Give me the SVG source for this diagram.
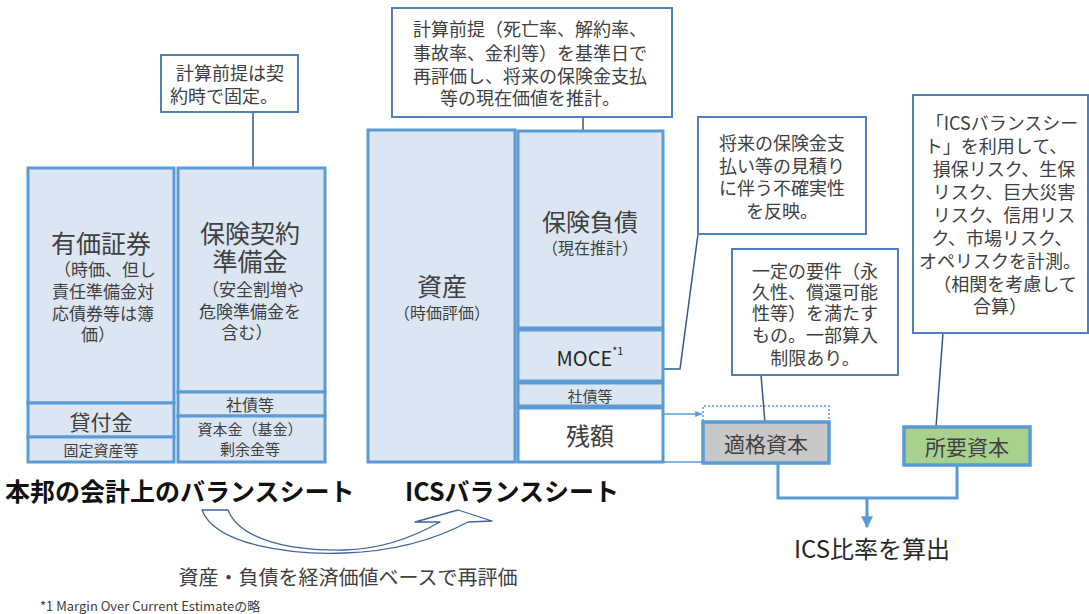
<svg xmlns="http://www.w3.org/2000/svg" width="1089" height="614" viewBox="0 0 1089 614">
<defs>
<style>
text{font-family:"Noto Sans CJK JP","Noto Sans",sans-serif;fill:#404040;text-anchor:middle;dominant-baseline:central}
.bx{fill:#dce6f2;stroke:#5b9bd5;stroke-width:3}
.wb{fill:#ffffff;stroke:#5b9bd5;stroke-width:3}
.co{fill:#ffffff;stroke:#4f81bd;stroke-width:2}
.ln{fill:none;stroke:#2f5a8c;stroke-width:1.5}
.thin{fill:none;stroke:#5b9bd5;stroke-width:1.5}
.big{fill:none;stroke:#5b9bd5;stroke-width:3}
.t25{font-size:25px}
.t24{font-size:24px}
.t21{font-size:21px}
.t18{font-size:18px}
.t17{font-size:17px}
.t16{font-size:16px}
.t15{font-size:15px}
.title{font-size:25px;font-weight:bold;fill:#111111;text-anchor:start}
</style>
<marker id="ah" viewBox="0 0 10 10" refX="9" refY="5" markerWidth="4" markerHeight="4" orient="auto"><path d="M0,0L10,5L0,10z" fill="#5b9bd5"/></marker>
<marker id="sh" viewBox="0 0 10 10" refX="9" refY="5" markerWidth="5" markerHeight="5" orient="auto"><path d="M0,1L10,5L0,9z" fill="#5b9bd5"/></marker>
</defs>

<g id="connectors">
<path class="ln" d="M253,112V187"/>
<path class="ln" d="M583,117V153"/>
<path class="ln" d="M698,234L680,369H647"/>
<path class="ln" d="M761,375L765,423"/>
<path class="ln" d="M943,333L936,427"/>
<path class="thin" d="M637,414H702" marker-end="url(#sh)"/>
<path class="thin" d="M663,462H703"/>
<path class="big" d="M778,463V498H957V465"/>
<path class="big" d="M867,498V527" marker-end="url(#ah)"/>
</g>

<g id="jp-bs">
<rect id="securities" class="bx" x="28" y="168" width="146" height="235"/>
<text class="t25" x="101" y="242">有価証券</text>
<text class="t17" x="105" y="268">（時価、但し</text>
<text class="t17" x="103" y="290">責任準備金対</text>
<text class="t17" x="103" y="312">応債券等は簿</text>
<text class="t17" x="98" y="333">価）</text>
<rect id="loans" class="bx" x="28" y="403" width="146" height="34"/>
<text class="t21" x="101" y="421">貸付金</text>
<rect id="fixed-assets" class="bx" x="28" y="437" width="146" height="25"/>
<text class="t15" x="101" y="449">固定資産等</text>
<rect id="reserves" class="bx" x="178" y="168" width="147" height="224"/>
<text class="t25" x="250" y="232">保険契約</text>
<text class="t25" x="250" y="260">準備金</text>
<text class="t17" x="253" y="288">（安全割増や</text>
<text class="t17" x="250" y="310">危険準備金を</text>
<text class="t17" x="247" y="331">含む）</text>
<rect id="bonds" class="bx" x="178" y="392" width="147" height="24"/>
<text class="t16" x="250" y="404">社債等</text>
<rect id="capital" class="bx" x="178" y="416" width="147" height="46"/>
<text class="t15" x="250" y="428">資本金（基金）</text>
<text class="t15" x="250" y="448">剰余金等</text>
</g>

<g id="note-fixed">
<rect class="co" x="161" y="55" width="137" height="57"/>
<text class="t18" x="230" y="72">計算前提は契</text>
<text class="t18" x="224" y="95">約時で固定。</text>
</g>

<g id="ics-bs">
<rect id="assets" class="bx" x="368" y="130" width="147" height="332"/>
<text class="t25" x="442" y="285">資産</text>
<text class="t16" x="442" y="312">（時価評価）</text>
<rect id="liab" class="bx" x="518" y="131" width="145" height="197"/>
<text class="t24" x="590" y="220">保険負債</text>
<text class="t16" x="590" y="247">（現在推計）</text>
<rect id="moce" class="bx" x="518" y="330" width="145" height="51"/>
<text x="590" y="357" style="font-size:20px;fill:#262626">MOCE<tspan dy="-7" style="font-size:11px">*1</tspan></text>
<rect id="bonds2" class="bx" x="518" y="383" width="145" height="23"/>
<text class="t15" x="590" y="395">社債等</text>
<rect id="residual" class="wb" x="518" y="408" width="145" height="54"/>
<text class="t24" x="590" y="434">残額</text>
</g>

<g id="note-ics">
<rect class="co" x="392" y="8" width="280" height="109"/>
<text class="t18" x="530" y="28">計算前提（死亡率、解約率、</text>
<text class="t18" x="530" y="52">事故率、金利等）を基準日で</text>
<text class="t18" x="530" y="75">再評価し、将来の保険金支払</text>
<text class="t18" x="530" y="97">等の現在価値を推計。</text>
</g>

<g id="note-moce">
<rect class="co" x="698" y="117" width="168" height="117"/>
<text class="t18" x="782" y="142">将来の保険金支</text>
<text class="t18" x="782" y="165">払い等の見積り</text>
<text class="t18" x="782" y="187">に伴う不確実性</text>
<text class="t18" x="782" y="210">を反映。</text>
</g>

<g id="note-eligible">
<rect class="co" x="732" y="249" width="166" height="126"/>
<text class="t18" x="815" y="270">一定の要件（永</text>
<text class="t18" x="815" y="291">久性、償還可能</text>
<text class="t18" x="815" y="312">性等）を満たす</text>
<text class="t18" x="815" y="334">もの。一部算入</text>
<text class="t18" x="815" y="357">制限あり。</text>
</g>

<g id="note-required">
<rect class="co" x="913" y="95" width="175" height="238"/>
<text class="t18" x="1002" y="122">「ICSバランスシー</text>
<text class="t18" x="996" y="145">ト」を利用して、</text>
<text class="t18" x="1004" y="168">損保リスク、生保</text>
<text class="t18" x="1004" y="191">リスク、巨大災害</text>
<text class="t18" x="1004" y="214">リスク、信用リス</text>
<text class="t18" x="1002" y="237">ク、市場リスク、</text>
<text class="t18" x="1000" y="260">オペリスクを計測。</text>
<text class="t18" x="1005" y="283">（相関を考慮して</text>
<text class="t18" x="1000" y="305">合算）</text>
</g>

<g id="eligible">
<path d="M703,421V406H829V421" fill="none" stroke="#5b9bd5" stroke-width="1.5" stroke-dasharray="2,2"/>
<rect x="703" y="422" width="126" height="41" fill="#c8c8c8" stroke="#5b9bd5" stroke-width="3.5"/>
<text class="t21" x="766" y="443">適格資本</text>
</g>

<g id="required">
<rect x="904" y="427" width="126" height="38" fill="#a9d18e" stroke="#5b9bd5" stroke-width="3.5"/>
<text class="t21" x="967" y="446">所要資本</text>
</g>

<g id="ratio">
<text class="t24" x="872" y="547" style="fill:#262626">ICS比率を算出</text>
</g>

<g id="titles">
<text class="title" x="5" y="490">本邦の会計上のバランスシート</text>
<text class="title" x="405" y="490">ICSバランスシート</text>
</g>

<g id="revalue-arrow">
<path d="M202,510C215,545 290,555 345,553C400,551 440,537 468,522L492,521L458,510L415,522L440,522C412,538 380,549 345,550C290,551 240,540 228,510Z" fill="#ffffff" stroke="#41659a" stroke-width="1.3" stroke-linejoin="round"/>
<text x="348" y="576" style="font-size:20px">資産・負債を経済価値ベースで再評価</text>
</g>

<g id="footnote">
<text x="40" y="605" style="font-size:13px;text-anchor:start">*1 Margin Over Current Estimateの略</text>
</g>
</svg>
